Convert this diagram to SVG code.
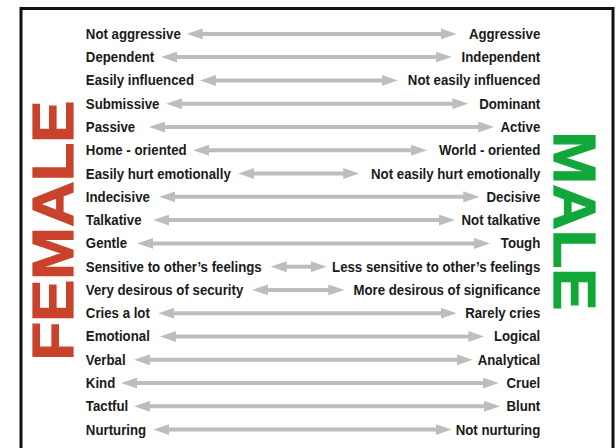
<svg xmlns="http://www.w3.org/2000/svg" width="616" height="448" viewBox="0 0 616 448">
<style>
.lbl{font-family:"Liberation Sans",Arial,sans-serif;font-weight:bold;font-size:15.5px;fill:#1a1a1a}
.l{text-anchor:start}
.r{text-anchor:end}
.arr{stroke:#bdbdb9;stroke-width:4;fill:none;marker-start:url(#ah);marker-end:url(#ah)}
.big{font-family:"Liberation Sans",Arial,sans-serif;font-weight:bold;text-anchor:middle}
</style>
<defs>
<marker id="ah" markerUnits="userSpaceOnUse" markerWidth="16" markerHeight="11" refX="2" refY="5.5" orient="auto-start-reverse" viewBox="0 0 16 11">
<path d="M0,0 L16,5.5 L0,11 Z" fill="#bdbdb9"/>
</marker>
</defs>
<rect x="0" y="0" width="616" height="448" fill="#ffffff"/>
<rect id="frame" x="21" y="8.5" width="592" height="500" fill="none" stroke="#111" stroke-width="3"/>
<g id="female">
<text class="big" transform="translate(72.7,230.5) rotate(-90)" font-size="57.5" fill="#c9432c" stroke="#c9432c" stroke-width="1.2" textLength="260" lengthAdjust="spacingAndGlyphs">FEMALE</text>
</g>
<g id="male">
<text class="big" transform="translate(554,221) rotate(90)" font-size="59" fill="#12a839" stroke="#12a839" stroke-width="1.2" textLength="179" lengthAdjust="spacingAndGlyphs">MALE</text>
</g>
<g id="connectors">
<line class="arr" x1="200.7" y1="33.9" x2="442.7" y2="33.9"/>
<line class="arr" x1="175" y1="57.1" x2="437.7" y2="57.1"/>
<line class="arr" x1="214" y1="80.4" x2="383.7" y2="80.4"/>
<line class="arr" x1="180" y1="103.7" x2="454.3" y2="103.7"/>
<line class="arr" x1="163" y1="127" x2="480.3" y2="127"/>
<line class="arr" x1="207" y1="150.3" x2="413" y2="150.3"/>
<line class="arr" x1="252.3" y1="173.5" x2="345.3" y2="173.5"/>
<line class="arr" x1="173.3" y1="196.8" x2="465.3" y2="196.8"/>
<line class="arr" x1="167.3" y1="220.1" x2="441" y2="220.1"/>
<line class="arr" x1="151.3" y1="243.4" x2="476" y2="243.4"/>
<line class="arr" x1="284.7" y1="266.7" x2="312.7" y2="266.7"/>
<line class="arr" x1="266.3" y1="289.9" x2="330.3" y2="289.9"/>
<line class="arr" x1="172.3" y1="313.2" x2="442.7" y2="313.2"/>
<line class="arr" x1="174" y1="336.5" x2="470.3" y2="336.5"/>
<line class="arr" x1="148" y1="359.8" x2="458.7" y2="359.8"/>
<line class="arr" x1="135" y1="383.1" x2="484.7" y2="383.1"/>
<line class="arr" x1="148" y1="406.3" x2="486" y2="406.3"/>
<line class="arr" x1="167.3" y1="429.6" x2="437.7" y2="429.6"/>
</g>
<g id="labels" transform="scale(0.855,1)">
<g id="row0"><text class="lbl l" x="100.4" y="38.9">Not aggressive</text><text class="lbl r" x="631.9" y="38.9">Aggressive</text></g>
<g id="row1"><text class="lbl l" x="100.4" y="62.2">Dependent</text><text class="lbl r" x="631.9" y="62.2">Independent</text></g>
<g id="row2"><text class="lbl l" x="100.4" y="85.5">Easily influenced</text><text class="lbl r" x="631.9" y="85.5">Not easily influenced</text></g>
<g id="row3"><text class="lbl l" x="100.4" y="108.7">Submissive</text><text class="lbl r" x="631.9" y="108.7">Dominant</text></g>
<g id="row4"><text class="lbl l" x="100.4" y="132">Passive</text><text class="lbl r" x="631.9" y="132">Active</text></g>
<g id="row5"><text class="lbl l" x="100.4" y="155.3">Home - oriented</text><text class="lbl r" x="631.9" y="155.3">World - oriented</text></g>
<g id="row6"><text class="lbl l" x="100.4" y="178.6">Easily hurt emotionally</text><text class="lbl r" x="631.9" y="178.6">Not easily hurt emotionally</text></g>
<g id="row7"><text class="lbl l" x="100.4" y="201.9">Indecisive</text><text class="lbl r" x="631.9" y="201.9">Decisive</text></g>
<g id="row8"><text class="lbl l" x="100.4" y="225.1">Talkative</text><text class="lbl r" x="631.9" y="225.1">Not talkative</text></g>
<g id="row9"><text class="lbl l" x="100.4" y="248.4">Gentle</text><text class="lbl r" x="631.9" y="248.4">Tough</text></g>
<g id="row10"><text class="lbl l" x="100.4" y="271.7">Sensitive to other’s feelings</text><text class="lbl r" x="631.9" y="271.7">Less sensitive to other’s feelings</text></g>
<g id="row11"><text class="lbl l" x="100.4" y="295">Very desirous of security</text><text class="lbl r" x="631.9" y="295">More desirous of significance</text></g>
<g id="row12"><text class="lbl l" x="100.4" y="318.3">Cries a lot</text><text class="lbl r" x="631.9" y="318.3">Rarely cries</text></g>
<g id="row13"><text class="lbl l" x="100.4" y="341.5">Emotional</text><text class="lbl r" x="631.9" y="341.5">Logical</text></g>
<g id="row14"><text class="lbl l" x="100.4" y="364.8">Verbal</text><text class="lbl r" x="631.9" y="364.8">Analytical</text></g>
<g id="row15"><text class="lbl l" x="100.4" y="388.1">Kind</text><text class="lbl r" x="631.9" y="388.1">Cruel</text></g>
<g id="row16"><text class="lbl l" x="100.4" y="411.4">Tactful</text><text class="lbl r" x="631.9" y="411.4">Blunt</text></g>
<g id="row17"><text class="lbl l" x="100.4" y="434.7">Nurturing</text><text class="lbl r" x="631.9" y="434.7">Not nurturing</text></g>
</g>
</svg>
